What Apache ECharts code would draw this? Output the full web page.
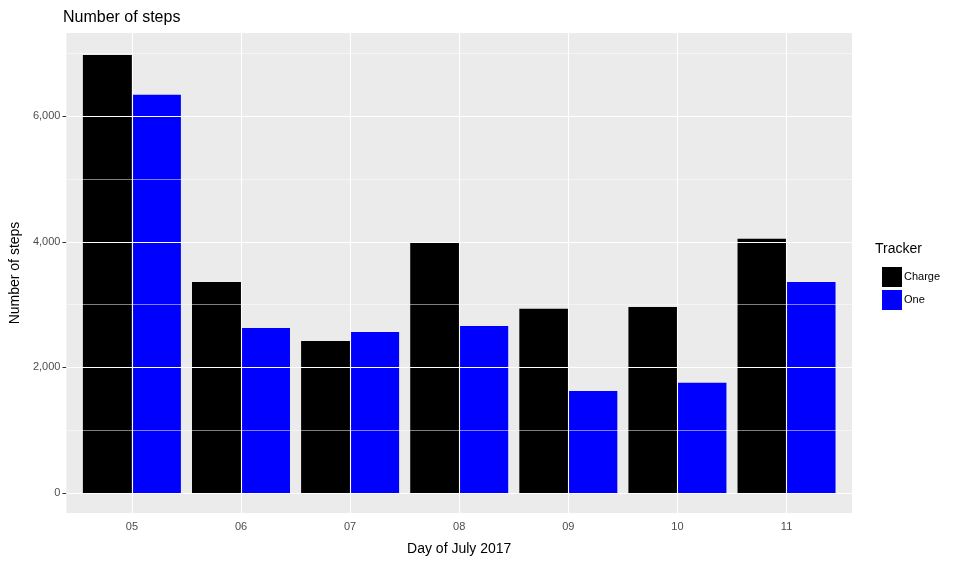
<!DOCTYPE html>
<html>
<head>
<meta charset="utf-8">
<script src="https://cdn.jsdelivr.net/npm/echarts@6/dist/echarts.min.js"></script>
<style>body{margin:0}#main{width:958px;height:562px}</style>
</head>
<body>
<div id="main"></div>
<script>
const days = ['05', '06', '07', '08', '09', '10', '11'];
const charge = [6980, 3360, 2420, 3985, 2935, 2965, 4050];
const one = [6345, 2630, 2565, 2660, 1625, 1755, 3360];
const yTicks = [0, 2000, 4000, 6000];
const yMinor = [1000, 3000, 5000, 7000];

const chart = echarts.init(document.getElementById('main'));
const pos = days.map((d, i) => i + 1);
const gridLines = [].concat(
  yTicks.map(v => ({ yAxis: v, lineStyle: { width: 1.1 } })),
  yMinor.map(v => ({ yAxis: v, lineStyle: { width: 0.5 } })),
  pos.map(v => ({ xAxis: v, lineStyle: { width: 1.1 } }))
);
const font = 'Liberation Sans, Arial, sans-serif';

chart.setOption({
  backgroundColor: '#ffffff',
  animation: false,
  title: {
    text: 'Number of steps', left: 58, top: 5,
    textStyle: { fontSize: 16, fontWeight: 'normal', color: '#000', fontFamily: font }
  },
  grid: {
    left: 64, right: 106, top: 33, bottom: 49,
    show: true, backgroundColor: '#EBEBEB', borderWidth: 0
  },
  legend: {
    orient: 'vertical', left: 877, top: 262, itemWidth: 20, itemHeight: 20, itemGap: 3,
    icon: 'rect', data: ['Charge', 'One'],
    textStyle: { fontSize: 11, color: '#000', fontFamily: font, padding: [0, 0, 0, -3] }
  },
  graphic: [{
    type: 'text', left: 875, top: 242,
    style: { text: 'Tracker', fontSize: 14, fill: '#000', fontFamily: font }
  }],
  xAxis: {
    type: 'value', min: 0.4, max: 7.6,
    name: 'Day of July 2017', nameLocation: 'middle', nameGap: 29,
    nameTextStyle: { fontSize: 14, color: '#000', fontFamily: font },
    axisLine: { show: false },
    splitLine: { show: false },
    axisTick: { show: true, customValues: pos, length: 4, lineStyle: { color: '#333' } },
    axisLabel: {
      customValues: pos, fontSize: 11, color: '#4d4d4d', fontFamily: font, margin: 8,
      formatter: v => days[Math.round(v) - 1]
    }
  },
  yAxis: {
    type: 'value', min: -320, max: 7330,
    name: 'Number of steps', nameLocation: 'middle', nameGap: 43,
    nameTextStyle: { fontSize: 14, color: '#000', fontFamily: font },
    axisLine: { show: false },
    splitLine: { show: false },
    axisTick: { show: true, customValues: yTicks, length: 4, lineStyle: { color: '#333' } },
    axisLabel: { customValues: yTicks, fontSize: 11, color: '#4d4d4d', fontFamily: font, margin: 6 }
  },
  series: [
    {
      type: 'line', data: [], silent: true, z: 1,
      markLine: {
        silent: true, symbol: 'none', label: { show: false },
        lineStyle: { color: '#ffffff', type: 'solid' },
        data: gridLines
      }
    },
    {
      name: 'Charge', type: 'bar', z: 2, barWidth: 49, barGap: '0%',
      itemStyle: { color: '#000000' },
      data: charge.map((v, i) => [pos[i], v])
    },
    {
      name: 'One', type: 'bar', z: 2, barWidth: 49, barGap: '0%',
      itemStyle: { color: '#0000FF' },
      data: one.map((v, i) => [pos[i], v])
    }
  ]
});
</script>
</body>
</html>
